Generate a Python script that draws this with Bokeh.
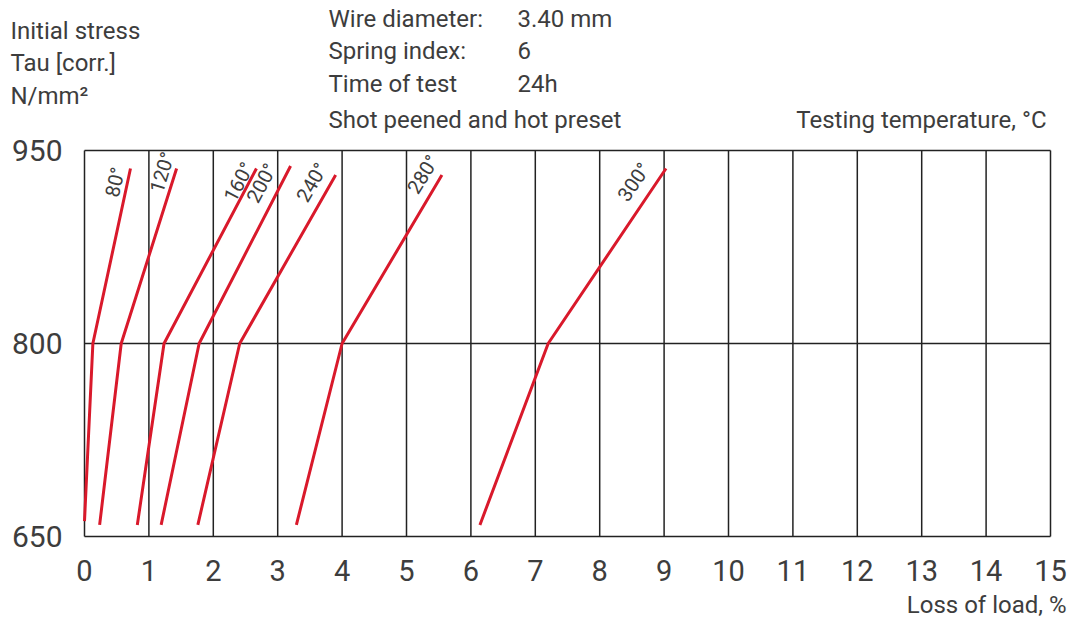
from bokeh.plotting import figure
from bokeh.models import Range1d, ColumnDataSource
from bokeh.core.properties import value
from bokeh.embed import file_html
from bokeh.resources import INLINE
import math

# ---- data ----
temps = ["80°", "120°", "160°", "200°", "240°", "280°", "300°"]
loss_bottom = [0.0, 0.235, 0.82, 1.19, 1.76, 3.29, 6.14]
stress_bottom = [662, 659, 659, 659, 659, 659, 659]
loss_knee = [0.13, 0.57, 1.235, 1.78, 2.41, 4.0, 7.2]
stress_knee = [800, 800, 800, 800, 800, 800, 800]
loss_top = [0.714, 1.43, 2.67, 3.2, 3.9, 5.55, 9.03]
stress_top = [936, 936, 936, 938, 931, 931, 936]

label_x = [0.475, 1.205, 2.395, 2.75, 3.53, 5.255, 8.53]
label_y = [925.4, 933.0, 925.6, 924.8, 925.2, 931.5, 925.6]
label_angle_deg = [77, 73, 62, 62, 60, 58, 56]

x_ticks = list(range(0, 16))
y_ticks = [650, 800, 950]

y_title = ["Initial stress", "Tau [corr.]", "N/mm²"]
spec_names = ["Wire diameter:", "Spring index:", "Time of test", "Shot peened and hot preset"]
spec_values = ["3.40 mm", "6", "24h", ""]
temp_title = "Testing temperature, °C"
x_title = "Loss of load, %"

FONT = "Roboto"
TXT = "#3d3d3d"
RED = "#d9192b"
GRID = "#222222"

# ---- canvas geometry (pixels) ----
W, H = 1068, 619
LEFT, RIGHT = 84, 1050      # chart frame x-extent in px
TOP, BOTTOM = 150, 536      # chart frame y-extent in px
X0, X1 = x_ticks[0], x_ticks[-1]
Y0, Y1 = y_ticks[0], y_ticks[-1]
kx = (RIGHT - LEFT) / (X1 - X0)
ky = (BOTTOM - TOP) / (Y1 - Y0)

p = figure(width=W, height=H, output_backend="svg", toolbar_location=None,
           x_range=Range1d(X0 - LEFT / kx, X0 + (W - LEFT) / kx),
           y_range=Range1d(Y0 - (H - BOTTOM) / ky, Y1 + TOP / ky),
           x_axis_type=None, y_axis_type=None,
           min_border=0, min_border_left=0, min_border_right=0,
           min_border_top=0, min_border_bottom=0)
p.outline_line_color = None
p.xgrid.visible = False
p.ygrid.visible = False


def px_x(px):
    return X0 + (px - LEFT) / kx


def px_y(py):
    return Y1 - (py - TOP) / ky


# grid / frame from tick lists
p.segment(x0=x_ticks, y0=[Y0] * len(x_ticks), x1=x_ticks, y1=[Y1] * len(x_ticks),
          line_color=GRID, line_width=1.5)
p.segment(x0=[X0] * len(y_ticks), y0=y_ticks, x1=[X1] * len(y_ticks), y1=y_ticks,
          line_color=GRID, line_width=1.5)

# tick labels
p.text(x=x_ticks, y=[px_y(570)] * len(x_ticks), text=[str(t) for t in x_ticks],
       text_font=value(FONT), text_font_size="29px", text_color=TXT,
       text_align="center", text_baseline="middle")
p.text(x=[px_x(62)] * len(y_ticks), y=y_ticks, text=[str(t) for t in y_ticks],
       text_font=value(FONT), text_font_size="30px", text_color=TXT,
       text_align="right", text_baseline="middle")

# curves
for i in range(len(temps)):
    p.line([loss_bottom[i], loss_knee[i], loss_top[i]],
           [stress_bottom[i], stress_knee[i], stress_top[i]],
           line_color=RED, line_width=3)

src = ColumnDataSource(dict(x=label_x, y=label_y, t=temps,
                            a=[math.radians(d) for d in label_angle_deg]))
p.text(x="x", y="y", text="t", angle="a", source=src,
       text_font=value(FONT), text_font_size="20px", text_color=TXT,
       text_align="center", text_baseline="middle")

# header & footer texts
p.text(x=[px_x(10)] * 3, y=[px_y(v) for v in (30, 62, 95)], text=y_title,
       text_font=value(FONT), text_font_size="24px", text_color=TXT,
       text_align="left", text_baseline="middle")
p.text(x=[px_x(328)] * 4, y=[px_y(v) for v in (18, 50, 83, 119)], text=spec_names,
       text_font=value(FONT), text_font_size="24px", text_color=TXT,
       text_align="left", text_baseline="middle")
p.text(x=[px_x(517)] * 4, y=[px_y(v) for v in (18, 50, 83, 119)], text=spec_values,
       text_font=value(FONT), text_font_size="24px", text_color=TXT,
       text_align="left", text_baseline="middle")
p.text(x=[px_x(1046)], y=[px_y(119)], text=[temp_title],
       text_font=value(FONT), text_font_size="24px", text_color=TXT,
       text_align="right", text_baseline="middle")
p.text(x=[px_x(1066)], y=[px_y(604)], text=[x_title],
       text_font=value(FONT), text_font_size="24px", text_color=TXT,
       text_align="right", text_baseline="middle")

open("out.html", "w").write(file_html(p, INLINE))
